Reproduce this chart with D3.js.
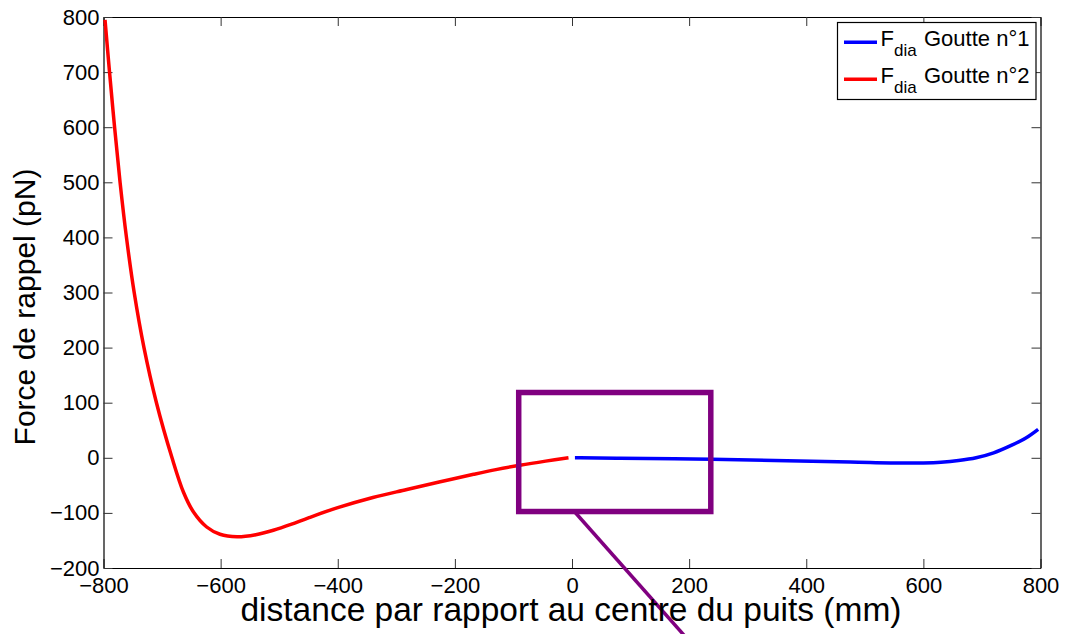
<!DOCTYPE html>
<html>
<head>
<meta charset="utf-8">
<script src="https://cdn.jsdelivr.net/npm/d3@7"></script>
<style>
  body { margin: 0; background: #fff; }
  svg { display: block; font-family: "Liberation Sans", Arial, Helvetica, sans-serif; }
</style>
</head>
<body>
<svg id="chart" width="1067" height="634"></svg>
<script>
// ---- data ----
const xTicks = [-800, -600, -400, -200, 0, 200, 400, 600, 800];
const yTicks = [-200, -100, 0, 100, 200, 300, 400, 500, 600, 700, 800];

const goutte2X = [-797.4, -789.7, -781.1, -771.7, -760.8, -747.6, -730.9, -709.6, -683, -663.4, -646.3, -623.8, -601.1, -572, -540, -510, -480, -450, -400, -340, -282, -225, -168, -130, -89, -45, -6];
const goutte2Y = [794.6, 700, 600, 500, 400, 300, 200, 100, 0, -62.5, -98.4, -125.6, -138.8, -143.2, -139.5, -131.5, -121, -109, -90.5, -72, -57.5, -43.5, -30, -21.5, -13.5, -6, 0];

const goutte1X = [5, 14, 82, 239, 367, 475, 566, 600, 630, 660, 690, 720, 750, 775, 796];
const goutte1Y = [0, 0, -1, -2.7, -5.3, -7.6, -9.6, -9.3, -8, -5, 0, 9, 22.5, 36, 51.7];

const legendLabels = ["Goutte n°1", "Goutte n°2"];
const seriesColors = ["#0000ff", "#ff0000"];

// zoom annotation (data units)
const boxX = [-91, 237];
const boxY = [-97.5, 118.5];
const pointerX = [4, 223];
const pointerY = [-97.5, -360];

// ---- layout ----
const mLeft = 103.5, mRight = 1040.5, mTop = 17, mBottom = 568;
const svg = d3.select("#chart");

const x = d3.scaleLinear().domain([-800, 800]).range([mLeft, mRight]);
const y = d3.scaleLinear().domain([-200, 800]).range([mBottom, mTop]);

const fmt = d => d < 0 ? "\u2212" + Math.abs(d) : String(d);

// axes
const axB = svg.append("g").attr("transform", `translate(0,${mBottom})`)
  .call(d3.axisBottom(x).tickValues(xTicks).tickFormat(fmt).tickSizeInner(-9).tickSizeOuter(0).tickPadding(9));
const axT = svg.append("g").attr("transform", `translate(0,${mTop})`)
  .call(d3.axisTop(x).tickValues(xTicks).tickFormat("").tickSizeInner(-9).tickSizeOuter(0));
const axL = svg.append("g").attr("transform", `translate(${mLeft},0)`)
  .call(d3.axisLeft(y).tickValues(yTicks).tickFormat(fmt).tickSizeInner(-9).tickSizeOuter(0).tickPadding(4));
const axR = svg.append("g").attr("transform", `translate(${mRight},0)`)
  .call(d3.axisRight(y).tickValues(yTicks).tickFormat("").tickSizeInner(-9).tickSizeOuter(0));

[axB, axT, axL, axR].forEach(a => {
  a.attr("font-family", null);
  a.selectAll("path.domain").attr("stroke", "#000").attr("stroke-width", 1.2);
  a.selectAll(".tick line").attr("stroke", "#333").attr("stroke-width", 1);
  a.selectAll("text").attr("font-size", 22).attr("fill", "#000");
});
axB.attr("font-size", 22); axL.attr("font-size", 22);

// series
const line = d3.line().x(d => x(d[0])).y(d => y(d[1])).curve(d3.curveCatmullRom.alpha(0.5));
const s1 = goutte1X.map((v, i) => [v, goutte1Y[i]]);
const s2 = goutte2X.map((v, i) => [v, goutte2Y[i]]);

svg.append("path").datum(s1).attr("d", line)
  .attr("fill", "none").attr("stroke", seriesColors[0]).attr("stroke-width", 3.5);
svg.append("path").datum(s2).attr("d", line)
  .attr("fill", "none").attr("stroke", seriesColors[1]).attr("stroke-width", 3.5);

// annotation box + pointer
svg.append("rect")
  .attr("x", x(boxX[0])).attr("y", y(boxY[1]))
  .attr("width", x(boxX[1]) - x(boxX[0])).attr("height", y(boxY[0]) - y(boxY[1]))
  .attr("fill", "none").attr("stroke", "#800080").attr("stroke-width", 5.5);
svg.append("line")
  .attr("x1", x(pointerX[0])).attr("y1", y(pointerY[0]))
  .attr("x2", x(pointerX[1])).attr("y2", y(pointerY[1]))
  .attr("stroke", "#800080").attr("stroke-width", 3.5);

// axis titles
svg.append("text")
  .attr("x", 571).attr("y", 621)
  .attr("text-anchor", "middle").attr("font-size", 33.5)
  .text("distance par rapport au centre du puits (mm)");
svg.append("text")
  .attr("transform", "translate(35,307) rotate(-90)")
  .attr("text-anchor", "middle").attr("font-size", 30)
  .text("Force de rappel (pN)");

// legend
const lg = svg.append("g");
lg.append("rect").attr("x", 837.5).attr("y", 22.5).attr("width", 198.5).attr("height", 77)
  .attr("fill", "#fff").attr("stroke", "#000").attr("stroke-width", 1.2);
legendLabels.forEach((lab, i) => {
  const cy = 42.3 + i * 37;
  lg.append("line").attr("x1", 844).attr("x2", 877).attr("y1", cy).attr("y2", cy)
    .attr("stroke", seriesColors[i]).attr("stroke-width", 3.5);
  const t = lg.append("text").attr("x", 880.5).attr("y", cy + 4).attr("font-size", 22);
  t.append("tspan").text("F");
  t.append("tspan").attr("font-size", 17).attr("dy", 10).text("dia");
  t.append("tspan").attr("x", 924).attr("dy", -10).text(lab);
});
</script>
</body>
</html>
